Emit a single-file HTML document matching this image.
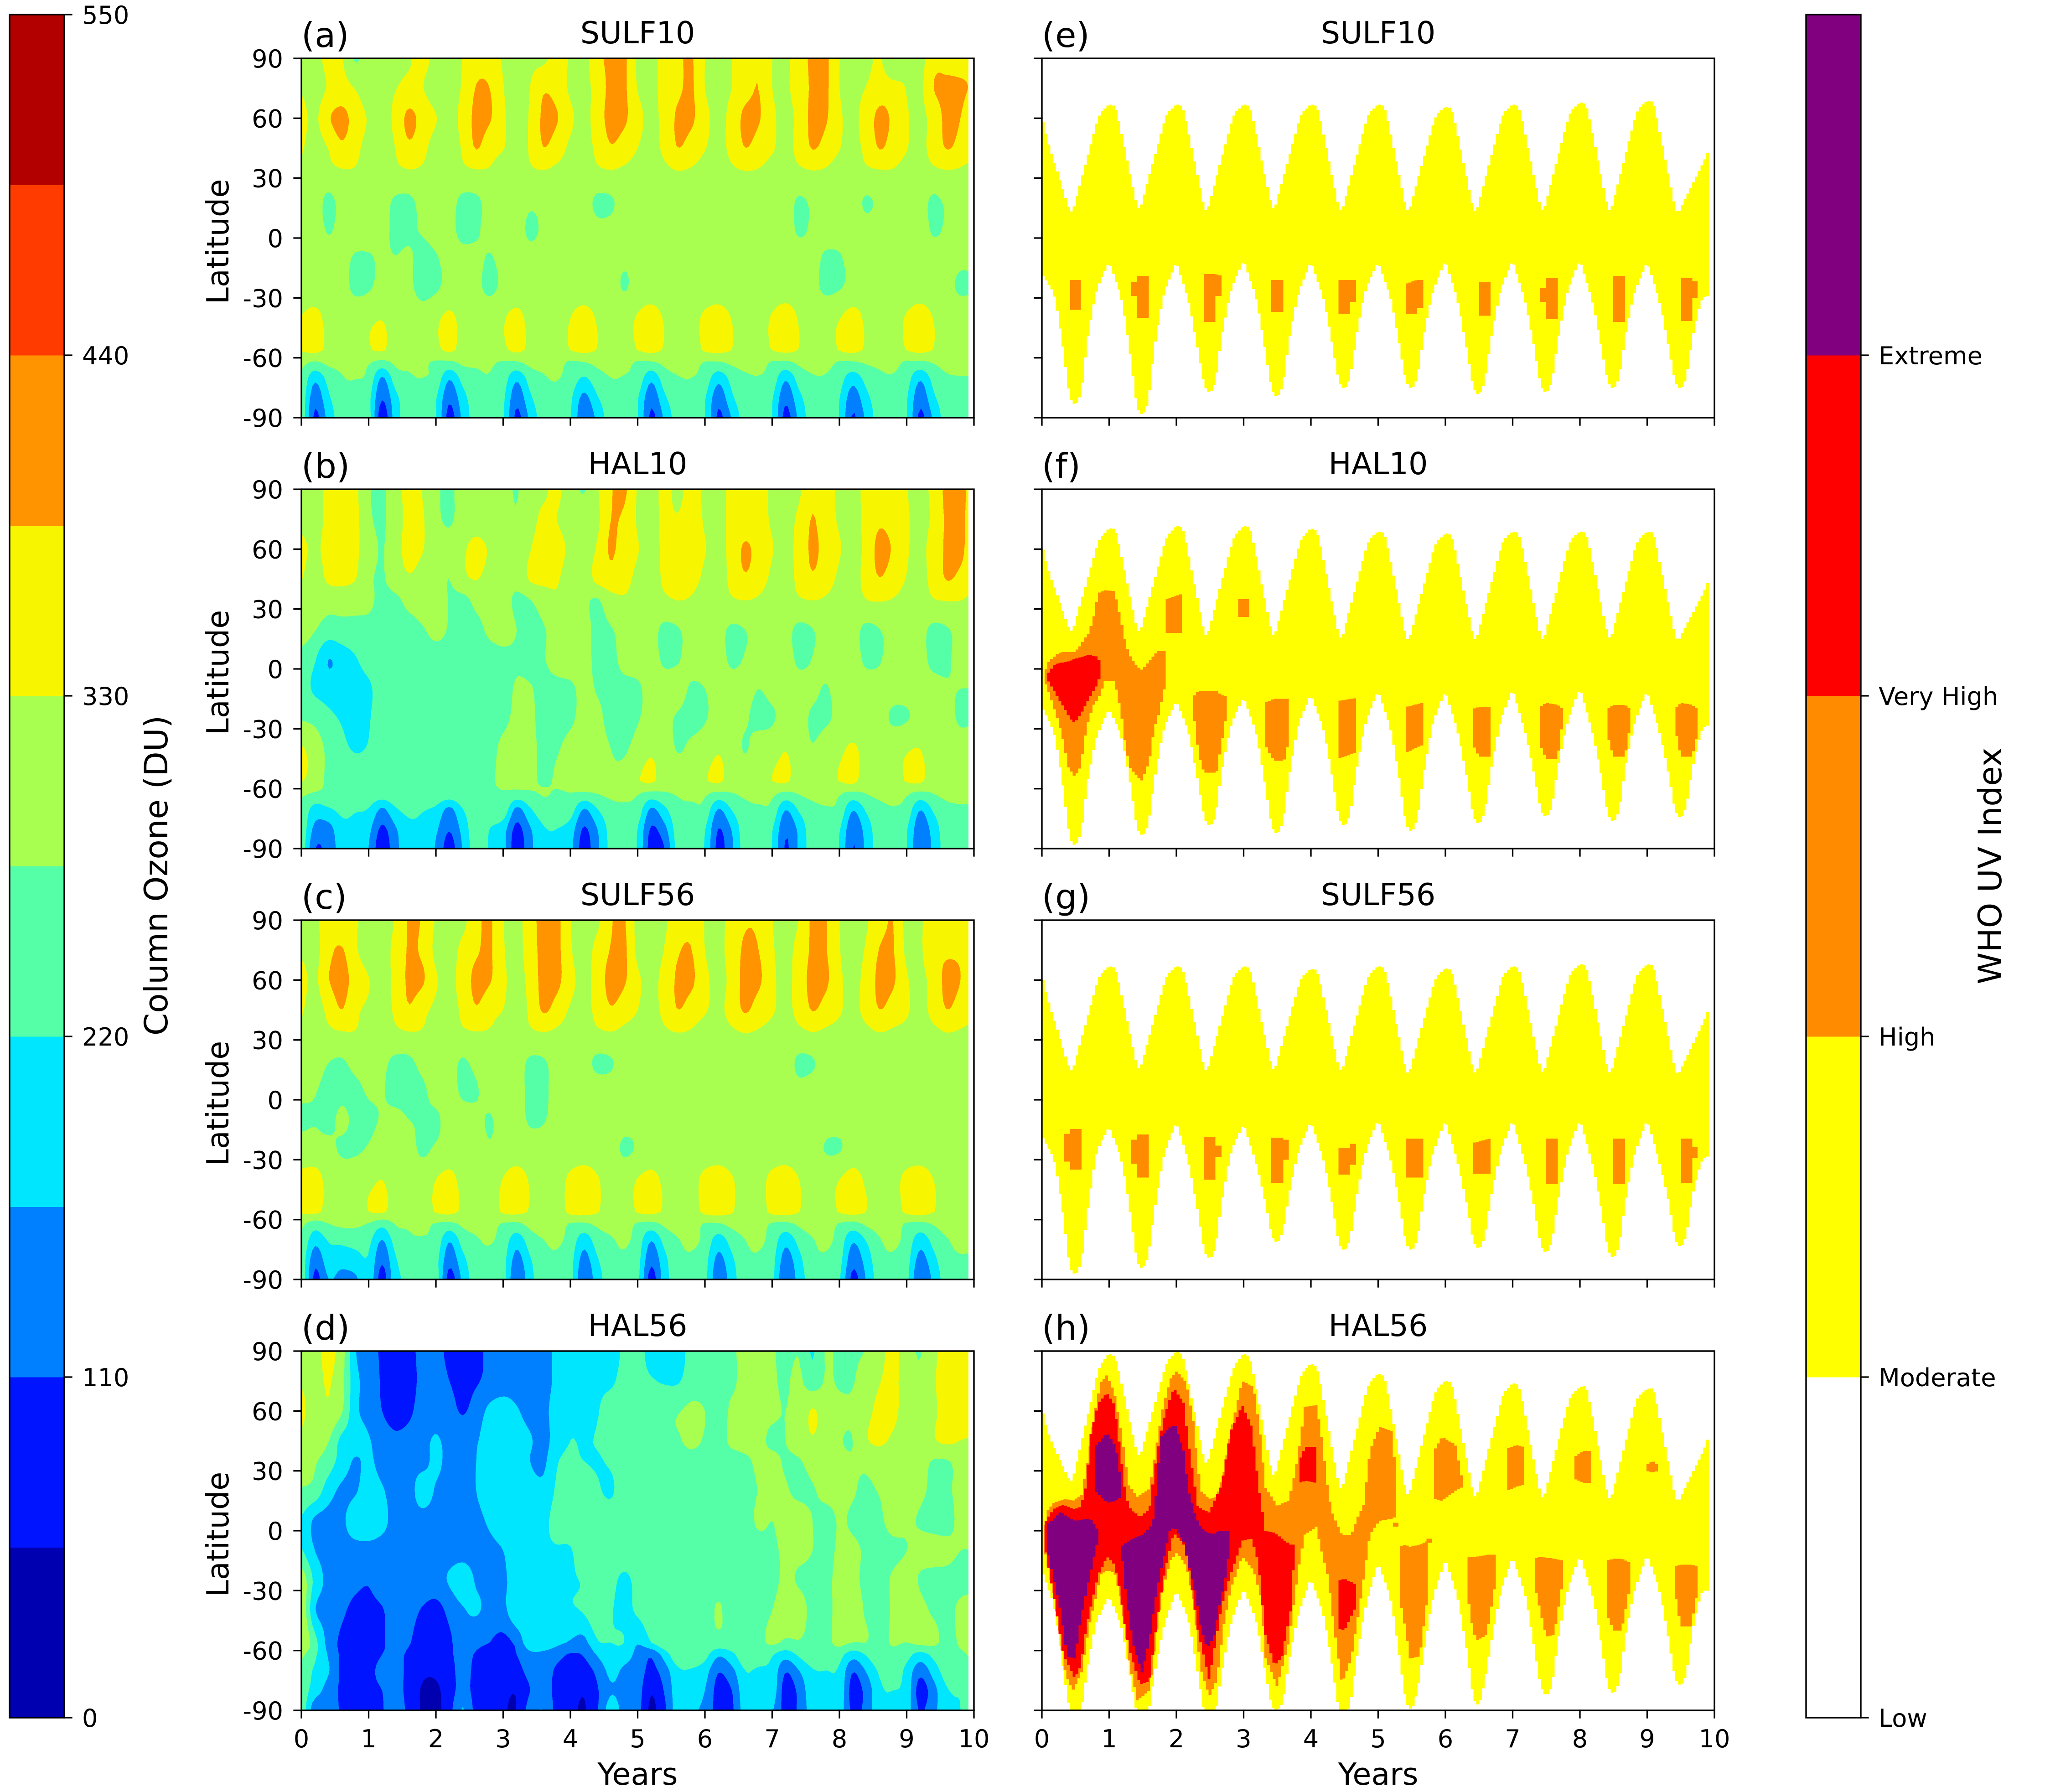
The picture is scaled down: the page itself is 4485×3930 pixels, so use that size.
<!DOCTYPE html>
<html>
<head>
<meta charset="utf-8">
<title>Column Ozone and WHO UV Index</title>
<style>
html,body{margin:0;padding:0;background:#fff;}
svg{display:block;}
text{font-family:"DejaVu Sans","Liberation Sans",sans-serif;fill:#000;}
</style>
</head>
<body>
<svg id="figure" xmlns="http://www.w3.org/2000/svg" width="4485" height="3930" viewBox="0 0 4485 3930"></svg>
<script>
const latitudes = [90,75,60,45,35,20,5,-10,-25,-40,-56,-62,-70,-80,-90];
const ozoneTimeStep = 0.2;
const dataEndYear = 9.917;
const ozoneLevels = [55,110,165,220,275,330,385,440,495];
const ozoneColors = ['#0000b0','#0014ff','#0080ff','#00e6ff','#55ffa8','#a8ff50','#f8f500','#ff9300','#ff3b00','#b20000'];
const ozoneTicks = [0,110,220,330,440,550];
const uvTickLabels = ['Low','Moderate','High','Very High','Extreme'];
const uvColors = ['#ffffff','#ffff00','#ff8c00','#ff0000','#800080'];
const latTicks = [90,60,30,0,-30,-60,-90];
const yearTicks = [0,1,2,3,4,5,6,7,8,9,10];
const uvTopOffsets = [0,0.1,0.44,0.85];
const uvBottomOffsets = [0,0.19,0.33,0.41,0.5,0.59,0.67,0.81];

const ozoneSulf10 = [
[300,310,345,335,270, 300,305,310,325,345, 315,305,332,365,360, 325,310,320,320,350, 325,312,370,395,395, 320,315,350,375,390, 330,310,330,375,380, 330,320,360,395,395, 330,312,315,335,272, 325,312,370,372,368, 370],
[325,305,335,350,328, 300,310,328,345,332, 305,315,335,388,385, 332,310,330,378,365, 322,315,350,400,395, 328,320,345,375,392, 330,320,330,365,385, 330,325,350,395,395, 330,318,332,360,350, 328,318,385,395,392, 380],
[345,320,378,402,362, 325,305,345,398,365, 332,315,345,400,390, 338,312,335,395,388, 340,315,355,405,395, 345,320,345,395,395, 342,320,345,400,390, 340,318,345,400,390, 338,318,355,398,375, 335,318,350,400,385, 340],
[335,305,332,375,345, 312,305,331,375,345, 310,312,335,388,350, 332,312,335,384,358, 320,315,340,380,358, 330,318,340,385,360, 332,320,342,385,360, 335,318,345,388,365, 332,318,342,388,360, 332,318,350,388,365, 335],
[322,300,318,330,328, 305,300,320,332,325, 305,305,322,332,328, 310,305,325,333,322, 310,305,325,333,325, 315,308,322,334,328, 315,308,325,334,330, 315,308,325,334,328, 312,308,325,332,330, 315,308,325,333,328, 320],
[300,295,268,290,296, 296,290,272,270,290, 296,292,268,270,292, 296,295,285,290,296, 296,290,270,272,292, 296,296,296,296,296, 296,296,296,296,296, 296,295,272,285,296, 296,292,272,285,296, 296,292,270,285,296, 296],
[295,290,272,285,292, 292,285,268,268,280, 292,288,262,268,292, 292,288,270,280,292, 292,292,282,284,294, 292,292,292,292,292, 292,292,292,292,292, 292,290,270,280,292, 292,292,285,290,292, 292,292,270,280,292, 292],
[290,292,288,285,272, 272,280,276,280,262, 272,288,288,285,272, 288,292,285,288,280, 290,290,290,290,282, 290,290,290,290,290, 290,290,290,290,290, 290,290,290,286,270, 272,288,290,290,290, 290,290,290,290,284, 284],
[300,300,298,292,266, 270,292,292,285,258, 268,292,295,285,266, 285,296,296,296,288, 296,296,296,294,272, 292,296,296,296,296, 296,296,296,296,296, 296,296,296,288,266, 272,290,296,296,296, 296,296,296,288,268, 272],
[332,345,315,305,305, 320,328,310,305,298, 320,340,315,305,305, 325,345,315,305,305, 330,352,325,305,310, 335,355,325,305,310, 340,355,328,305,310, 335,360,325,305,310, 328,350,320,305,310, 335,358,328,305,305, 305],
[335,345,318,300,298, 325,336,305,300,296, 318,340,312,298,296, 320,342,318,298,296, 332,345,328,296,298, 332,345,325,296,298, 338,345,330,296,298, 332,345,328,296,298, 334,345,322,296,298, 332,346,328,296,296, 296],
[288,272,288,285,285, 280,262,285,282,282, 270,268,285,282,280, 272,272,290,290,290, 270,276,288,288,288, 272,272,288,292,292, 274,274,286,295,292, 272,268,286,290,290, 272,272,282,285,288, 270,268,280,292,296, 296],
[268,180,240,272,276, 262,160,250,270,275, 260,172,240,265,272, 250,178,245,270,278, 255,215,255,275,272, 258,180,250,272,275, 255,185,240,265,272, 255,175,245,270,270, 245,190,240,265,270, 245,175,240,268,272, 272],
[255,130,210,255,260, 235,115,205,250,258, 225,122,200,250,255, 230,128,210,255,258, 230,150,215,255,258, 225,128,210,255,255, 225,130,210,255,255, 225,125,205,250,258, 222,135,205,250,255, 225,128,210,250,258, 258],
[258,100,185,250,255, 240,78,195,250,255, 225,90,180,250,255, 225,98,178,250,255, 225,118,180,250,255, 222,100,175,250,255, 222,100,170,250,255, 222,92,180,250,255, 218,105,178,250,255, 222,100,175,250,255, 255]
];
const ozoneHal10 = [
[300,305,345,338,340, 280,265,310,345,328, 285,265,300,305,305, 295,272,310,322,340, 300,272,325,380,395, 325,315,340,320,345, 322,310,345,350,350, 322,310,322,370,350, 322,312,345,360,360, 332,315,345,400,400, 360],
[318,305,345,345,345, 285,268,305,345,335, 288,268,298,305,300, 296,280,312,340,330, 310,300,320,385,375, 325,318,338,335,352, 325,312,345,345,345, 325,315,340,388,350, 325,312,345,375,360, 335,318,340,395,395, 362],
[340,322,345,345,340, 300,272,312,345,332, 305,295,322,345,325, 305,300,328,350,345, 322,312,335,392,355, 332,318,340,372,358, 332,318,345,395,360, 332,318,345,395,362, 333,318,342,405,378, 335,320,350,395,400, 340],
[332,300,340,345,332, 285,270,305,325,312, 300,275,318,332,312, 300,295,335,345,335, 308,300,345,365,345, 320,305,340,360,348, 320,305,345,378,350, 322,308,345,378,350, 322,308,350,383,355, 328,312,350,388,370, 335],
[310,295,292,295,290, 285,262,265,292,302, 302,272,262,290,298, 298,265,275,298,322, 300,285,272,310,325, 310,300,320,332,325, 305,300,325,332,325, 310,302,325,332,325, 312,300,330,335,328, 315,305,328,334,332, 320],
[305,278,255,258,262, 262,260,258,258,272, 285,272,258,262,285, 295,275,262,272,295, 300,290,265,272,295, 298,292,265,272,296, 298,290,268,276,296, 298,290,265,274,296, 298,292,265,275,296, 298,290,265,272,292, 296],
[255,225,165,190,215, 245,255,258,262,262, 262,262,262,262,258, 262,268,262,272,295, 298,290,265,262,290, 296,292,268,272,292, 296,292,268,278,294, 296,292,268,276,294, 296,292,268,272,294, 296,292,262,268,292, 292],
[240,212,195,190,195, 210,250,258,258,258, 258,258,258,258,258, 258,280,278,262,262, 268,285,272,262,262, 268,292,292,292,270, 275,292,292,290,275, 288,292,290,285,272, 292,292,292,292,292, 292,292,292,280,275, 275],
[272,262,235,215,200, 215,258,258,258,258, 258,258,258,258,258, 265,285,285,258,262, 270,285,285,262,262, 272,292,285,270,262, 272,292,292,280,262, 270,292,292,268,268, 288,292,292,292,268, 272,292,292,292,268, 272],
[335,305,262,235,215, 225,258,258,258,258, 258,258,258,258,262, 285,295,290,262,272, 285,295,292,275,270, 292,322,298,272,285, 300,325,300,272,300, 305,328,300,278,300, 318,338,310,300,310, 325,330,300,300,300, 300],
[332,310,262,262,262, 258,258,258,258,258, 258,260,262,262,268, 285,282,285,268,280, 285,300,290,280,290, 325,340,300,300,300, 325,340,305,300,300, 330,340,300,300,300, 332,345,300,300,300, 335,340,300,300,300, 300],
[285,272,262,258,255, 258,258,262,262,262, 265,262,270,265,270, 272,265,270,278,272, 275,272,278,285,285, 280,265,272,280,285, 282,268,275,285,290, 285,268,280,290,290, 280,266,278,288,290, 282,266,278,290,296, 296],
[262,200,215,232,225, 218,160,215,235,225, 210,155,220,255,262, 262,155,215,255,262, 250,165,220,258,268, 255,160,210,262,268, 262,165,225,262,270, 262,170,230,262,272, 262,172,230,262,272, 258,170,230,262,268, 268],
[258,150,145,205,205, 180,100,160,205,205, 175,115,185,255,220, 190,95,160,215,220, 195,105,165,240,258, 220,105,150,250,262, 225,110,170,255,262, 225,120,180,255,262, 225,125,190,255,262, 225,130,190,255,262, 262],
[255,112,130,190,190, 165,70,150,195,195, 160,85,170,250,215, 185,75,150,205,215, 180,85,155,235,258, 215,85,110,245,258, 215,95,155,250,258, 220,105,175,250,258, 218,108,180,250,258, 222,115,180,250,258, 258]
];
const ozoneSulf56 = [
[300,315,360,340,335, 310,305,335,390,380, 325,305,315,370,392, 332,310,365,400,400, 332,310,320,380,390, 315,310,322,360,370, 328,315,350,380,375, 332,315,332,395,388, 330,315,325,365,385, 315,322,370,375,378, 375],
[322,312,370,390,338, 305,310,345,390,375, 318,308,345,378,392, 335,310,360,400,400, 335,312,345,388,395, 318,312,332,380,386, 330,318,352,395,385, 335,320,345,395,388, 332,318,335,388,388, 320,322,375,378,378, 375],
[345,320,382,402,365, 332,310,345,395,392, 335,318,352,400,390, 340,315,345,405,400, 345,318,350,405,392, 338,320,345,395,395, 342,318,345,405,395, 340,320,350,405,395, 338,320,345,400,392, 335,318,350,400,385, 340],
[335,305,345,385,340, 322,308,340,380,345, 320,312,340,380,345, 330,312,338,392,362, 325,318,342,380,355, 330,318,342,385,360, 335,320,350,392,358, 335,320,345,388,362, 335,320,345,385,360, 335,318,345,385,360, 338],
[322,300,322,332,330, 310,300,322,333,328, 308,305,325,332,328, 315,305,325,334,325, 312,308,325,333,322, 315,308,325,334,328, 312,310,325,335,328, 318,310,322,334,325, 318,310,322,334,326, 320,310,322,334,328, 320],
[298,296,278,272,292, 295,285,268,268,292, 296,292,272,290,296, 296,295,270,272,296, 296,290,268,272,296, 296,296,296,296,296, 296,296,296,296,296, 296,295,268,272,296, 296,296,296,290,296, 296,296,296,296,296, 296],
[285,278,262,262,265, 280,278,262,262,268, 292,292,268,272,292, 292,292,265,266,292, 292,292,292,292,292, 292,290,292,292,292, 292,292,292,285,292, 292,292,285,292,292, 292,292,292,292,292, 292,292,292,292,292, 292],
[268,272,262,285,265, 268,278,285,275,272, 268,292,292,285,272, 290,292,270,272,292, 292,292,292,292,292, 292,292,292,292,292, 292,292,292,292,292, 292,292,292,292,292, 292,292,292,292,292, 292,292,292,292,292, 292],
[296,296,290,268,268, 280,296,296,290,268, 282,296,296,296,280, 296,296,296,296,296, 296,296,296,296,268, 280,296,296,296,296, 296,296,296,296,296, 296,296,296,296,272, 272,296,296,296,296, 296,296,296,296,296, 296],
[345,350,315,305,305, 318,330,308,305,300, 330,345,315,305,305, 332,355,325,305,305, 342,360,335,305,308, 332,345,320,305,310, 345,360,335,305,310, 345,360,330,305,310, 330,350,322,305,312, 345,358,330,305,305, 305],
[340,345,310,298,298, 330,338,305,300,298, 335,345,320,296,296, 338,345,325,296,296, 345,350,335,296,298, 335,345,322,296,298, 345,350,335,296,298, 345,350,332,296,298, 335,348,330,296,298, 342,350,332,296,296, 296],
[285,250,275,285,285, 272,240,278,280,285, 272,262,285,290,290, 272,265,290,296,296, 272,268,285,290,296, 270,260,285,296,296, 272,272,290,296,296, 270,262,285,296,296, 272,258,285,296,296, 270,262,280,296,296, 296],
[270,185,225,235,240, 235,165,245,268,272, 262,172,245,270,280, 255,190,250,275,282, 258,190,250,270,282, 255,170,240,272,285, 262,195,245,275,285, 255,185,240,272,285, 255,175,225,272,285, 258,190,240,272,288, 285],
[255,130,195,185,200, 215,120,215,240,262, 240,130,205,255,262, 240,145,215,258,268, 240,145,215,255,268, 240,125,205,260,268, 240,150,210,262,268, 240,140,205,262,268, 240,130,190,258,268, 242,145,205,258,270, 268],
[258,95,165,150,155, 205,85,205,225,255, 250,88,180,250,258, 240,115,200,255,258, 240,118,195,250,258, 235,88,195,255,258, 235,125,195,255,258, 235,112,190,250,258, 225,95,170,250,258, 235,110,180,250,258, 258]
];
const ozoneHal56 = [
[300,310,345,300,170, 125,105,85,90,130, 130,95,90,100,120, 140,145,150,150,175, 195,200,200,170,240, 240,200,195,195,240, 255,262,270,285,290, 280,262,272,215,280, 265,268,278,312,345, 300,272,320,345,345, 345],
[325,310,335,290,185, 140,105,85,90,125, 140,110,95,105,125, 140,145,150,150,175, 195,200,205,205,250, 240,225,215,215,248, 260,268,270,285,290, 280,270,285,245,280, 270,272,305,328,345, 300,285,325,350,350, 350],
[340,305,322,280,180, 145,110,92,100,135, 145,130,105,135,178, 190,170,150,155,185, 215,205,215,260,262, 262,262,265,272,285, 275,262,280,285,285, 280,275,290,335,300, 285,285,318,340,345, 300,290,320,352,352, 350],
[320,295,278,205,190, 170,135,120,130,150, 170,150,150,160,195, 205,195,170,150,190, 220,215,225,255,262, 262,262,268,272,282, 272,262,282,285,282, 270,275,295,325,295, 278,275,325,338,320, 290,290,325,340,330, 325],
[300,280,250,195,160, 175,145,145,150,150, 175,150,150,165,195, 205,210,165,155,215, 235,220,215,230,262, 262,262,262,262,265, 262,262,262,270,280, 282,272,272,290,290, 285,278,285,300,295, 295,290,272,272,290, 285],
[270,255,190,155,160, 190,170,145,145,190, 160,145,145,165,200, 210,205,190,180,230, 262,262,230,210,262, 262,262,262,262,262, 262,262,262,266,276, 282,278,268,272,285, 285,278,268,278,290, 290,282,268,270,285, 285],
[215,155,145,155,195, 205,180,148,145,145, 145,145,145,150,175, 205,210,210,205,245, 262,262,262,262,262, 262,262,262,262,262, 262,262,262,262,280, 275,285,290,275,262, 278,270,262,270,285, 280,272,262,262,285, 285],
[225,165,145,145,145, 145,145,145,145,145, 145,145,145,145,150, 165,205,215,215,215, 215,262,262,262,262, 262,262,262,262,262, 262,262,262,262,262, 270,280,285,275,262, 282,282,270,265,268, 275,285,290,285,275, 275],
[310,205,150,145,125, 115,145,145,145,145, 145,170,195,160,150, 155,195,215,215,215, 215,225,250,240,205, 240,262,262,262,262, 262,262,262,262,262, 262,285,270,262,262, 290,285,265,262,280, 290,272,262,262,262, 262],
[320,170,145,120,95, 95,105,145,130,105, 90,125,160,170,150, 150,210,215,215,215, 215,225,262,225,205, 230,262,262,262,262, 262,278,262,262,262, 275,300,295,262,262, 290,295,270,262,280, 295,285,270,262,285, 295],
[332,240,145,100,90, 90,100,145,115,85, 85,100,145,125,110, 95,125,205,205,180, 160,150,215,220,220, 170,220,262,262,265, 262,262,262,262,262, 285,268,272,262,262, 290,275,275,262,280, 275,290,285,262,280, 285],
[285,230,160,100,90, 95,110,125,100,80, 78,100,130,105,95, 90,110,150,150,130, 105,115,170,205,190, 150,120,190,262,262, 240,175,205,262,262, 225,190,230,262,262, 240,190,225,262,262, 240,200,235,262,270, 280],
[265,210,170,100,85, 100,120,130,95,65, 65,90,130,95,85, 75,90,130,140,100, 85,85,125,180,155, 140,95,140,210,215, 190,115,150,220,210, 205,115,165,215,220, 212,115,170,230,250, 205,130,190,250,262, 262],
[255,190,145,100,90, 100,110,130,90,50, 45,85,130,90,75, 65,60,110,140,90, 80,60,105,160,145, 135,60,115,200,205, 165,90,110,205,205, 200,85,125,205,205, 205,85,130,210,220, 200,85,145,215,225, 225],
[258,130,150,100,90, 90,105,150,90,50, 40,90,170,90,75, 60,55,135,165,90, 70,50,105,190,145, 130,45,100,195,175, 150,90,100,195,195, 170,90,120,195,195, 195,95,130,215,205, 190,105,150,205,220, 220]
];

const uvTopE = [61,47,11,62, 67,66,12,62, 67,66,11,62, 67,66,12,62, 67,66,11,62, 67,66,11,61, 66,65,10.5,62, 67,66,11,63, 68,67,11,64, 69,68,11,39, 44];
const uvTopF = [62.5,49,17,65, 70.5,70,16,66, 71.7,71,14,66, 71.7,71,14,65, 70.5,69,12.7,64, 69,68,12,63, 68,67,12,64, 69,68,12,64, 69,68,12.7,64, 69,68,12.7,39, 45];
const uvTopG = [62.8,49,12.5,62, 67,66,13,62, 67,66,12,62, 67,66,12.5,61, 65.7,65,12,62, 67,66,10.7,61, 66,65,10.7,62, 67,66,11,63, 68,67,10.7,63, 68,67,11,40, 46];
const uvTopH = [61.5,48,23,82, 89,87,35,84, 90,88,31,82, 89,87,24.6,78, 84,82,18,73, 79,77,15,70, 75.5,74,14,68, 74,73,13.5,67, 72,72.6,13,67, 71,71.5,13,41, 47.7];

const uvBottomE = [-18,-28,-58,-80,-84,-78,-52,-26, -12,-30,-62,-85,-89,-82,-55,-28, -12,-32,-58,-74,-78,-72,-50,-26, -11,-30,-58,-76,-80,-74,-52,-28, -12,-30,-55,-72,-76,-70,-50,-26, -12,-30,-56,-72,-76,-70,-50,-27, -11,-32,-58,-75,-79,-72,-52,-27, -11,-32,-56,-74,-78,-72,-52,-27, -11,-32,-56,-72,-76,-70,-50,-27, -12,-32,-56,-72,-76,-70,-50,-30, -29];
const uvBottomF = [-19,-32,-62,-85,-89,-82,-58,-34, -20,-34,-60,-80,-84,-78,-56,-30, -16,-32,-58,-75,-79,-74,-52,-28, -14,-32,-60,-79,-83,-77,-55,-28, -13,-30,-56,-75,-79,-73,-52,-27, -11,-30,-58,-78,-82,-75,-54,-27, -11,-32,-56,-74,-78,-72,-52,-27, -10,-32,-54,-71,-74.5,-69,-50,-27, -9.5,-32,-55,-73,-77,-71,-50,-27, -11,-32,-54,-71,-75,-69,-50,-30, -28];
const uvBottomG = [-18,-30,-60,-84,-88,-82,-58,-26, -13.5,-30,-60,-81,-85,-78,-56,-28, -11,-32,-58,-76,-80,-74,-52,-26, -12,-32,-52,-68,-72,-66,-48,-26, -11,-30,-54,-72,-76,-70,-50,-26, -10,-30,-54,-72,-76,-70,-50,-27, -10,-32,-54,-71,-75,-69,-50,-27, -10,-32,-55,-73,-77,-71,-52,-27, -10,-32,-56,-75,-80,-73,-52,-27, -10,-32,-52,-70,-74,-68,-48,-30, -28];
const uvBottomH = [-20,-38,-72,-90,-92,-90,-70,-45, -33,-48,-76,-92,-94,-92,-72,-48, -30,-45,-74,-92,-94,-92,-72,-46, -29,-45,-72,-88,-90,-86,-66,-42, -24,-42,-70,-90,-92,-88,-66,-38, -16,-34,-66,-86,-90,-80,-62,-34, -14,-34,-62,-84,-88,-75,-58,-32, -13,-32,-60,-78,-83,-78,-56,-30, -12.5,-32,-58,-78,-82,-76,-54,-30, -12,-30,-56,-74,-78,-72,-50,-30, -30];

const uvOrangeE = [
[[0.42,-36,-21],[0.58,-36,-21]],
[[1.33,-29,-22],[1.41,-29,-22]],[[1.41,-40,-19],[1.59,-40,-19]],
[[2.41,-42,-18],[2.58,-42,-18]],[[2.58,-29,-18],[2.67,-29,-19]],
[[3.41,-37,-21],[3.59,-37,-21]],
[[4.41,-38,-21],[4.58,-38,-21]],[[4.58,-32,-21],[4.67,-32,-21]],
[[5.41,-38,-23],[5.58,-38,-21]],[[5.58,-35,-21],[5.67,-35,-21]],
[[6.5,-39,-22],[6.67,-39,-22]],
[[7.41,-32,-25],[7.49,-32,-25]],[[7.49,-40.6,-20],[7.67,-40.6,-20]],
[[8.49,-42,-19],[8.67,-42,-19]],
[[9.5,-41.6,-20],[9.67,-41.6,-20]],[[9.67,-30,-21.6],[9.75,-30,-21.6]]
];
const uvOrangeF = [
[[0.04,-6,-2],[0.11,-12,4],[0.25,-27,8],[0.32,-36,8.5],[0.39,-49,8.5],[0.49,-54,8.5],[0.58,-49,12],[0.63,-36,15],[0.7,-25,18],[0.77,-18,26],[0.84,-15,38],[0.94,-6,39.4],[1.08,-6,39],[1.18,-22,24],[1.25,-40,12],[1.32,-50,6],[1.42,-54,1],[1.49,-56,-0.5],[1.6,-46,4],[1.67,-30,7],[1.73,-24,9],[1.84,-7,9]],
[[1.84,18,35],[2.08,18,37.5]],[[2.92,26,35],[3.08,26,35]],
[[2.25,-20,-14],[2.33,-43,-11],[2.41,-52,-11],[2.6,-52,-11],[2.67,-38,-13],[2.75,-22,-14]],
[[3.32,-38,-17],[3.45,-46,-15],[3.6,-46,-15],[3.67,-36,-15]],[[4.41,-45,-16],[4.67,-42,-14.6]],[[5.41,-42,-19],[5.67,-38,-17]],[[6.41,-38,-20],[6.5,-44,-19],[6.67,-44,-19]],
[[7.41,-38,-19],[7.5,-45,-17],[7.67,-45,-18],[7.75,-25,-20]],[[8.41,-33,-20],[8.5,-44,-18],[8.67,-44,-18],[8.75,-28,-20]],[[9.42,-30,-20],[9.5,-44,-17],[9.67,-44,-18],[9.75,-32,-20]]
];
const uvRedF = [
[[0.08,-5,-3],[0.18,-11,2],[0.25,-15,3],[0.35,-20.5,3.4],[0.42,-25,4],[0.49,-27,5],[0.59,-22,6],[0.7,-15,7],[0.84,-7,6],[0.87,-1,1]]
];
const uvOrangeG = [
[[0.33,-31,-17],[0.42,-31,-17]],[[0.42,-35,-14.6],[0.59,-35,-14.6]],
[[1.33,-32,-20],[1.41,-32,-20]],[[1.41,-39,-17.4],[1.59,-39,-17.4]],
[[2.41,-40,-18.5],[2.58,-40,-18.5]],[[2.58,-28.6,-23],[2.67,-28.6,-23]],
[[3.41,-41.6,-19],[3.59,-41.6,-19]],[[3.59,-30,-20],[3.67,-30,-20]],
[[4.41,-37.5,-24],[4.58,-37.5,-24]],[[4.58,-32.6,-22],[4.67,-32.6,-22]],
[[5.41,-39,-19.4],[5.67,-39,-19.4]],
[[6.41,-37,-21.5],[6.67,-37,-19.4]],
[[7.49,-42,-19.4],[7.67,-42,-19.4]],
[[8.49,-42,-19.4],[8.67,-42,-19.4]],
[[9.5,-41.7,-19.4],[9.67,-41.7,-19.4]],[[9.67,-29,-23.6],[9.75,-29,-23.6]]
];
const uvOrangeH = [
[[0.03,-9,-2],[0.08,-16,10],[0.18,-32,14],[0.25,-48,15],[0.35,-72,16],[0.46,-80,15],[0.59,-71,18],[0.7,-48,39],[0.8,-34,62],[0.87,-22,74],[0.97,-20,78],[1.08,-21,69],[1.18,-34,50],[1.29,-64,23],[1.42,-85,17],[1.6,-80,21],[1.7,-52,42],[1.8,-29,62],[1.91,-15,76],[2.01,-11,80],[2.15,-18,74],[2.25,-34,55],[2.36,-69,20],[2.49,-83,16],[2.6,-75,17],[2.7,-48,28],[2.81,-29,50],[2.98,-13,75],[3.15,-20,72],[3.26,-34,45],[3.32,-63,22],[3.5,-78,12.5],[3.67,-56,15],[3.77,-31,30],[3.84,-14,45],[3.91,-2,62],[4.08,2,63],[4.15,-9,50],[4.26,-24,18],[4.33,-44,8],[4.46,-77,-2],[4.6,-64,-2],[4.71,-41,8],[4.78,-25,12],[4.88,-2,40],[5.02,5,52],[5.2,6,50],[5.26,7,30]],
[[5.83,16,40],[5.95,15,47],[6.15,20,43],[6.26,22,24]],[[6.92,20,41],[7.05,22,43],[7.17,23,42]],[[7.92,26,37],[8.05,24,40],[8.17,24,40]],[[8.99,30,33],[9.08,29,35],[9.16,30,33]],
[[5.22,2,4],[5.3,2,4]],[[5.72,-6,-4],[5.8,-6,-4]],
[[5.33,-35,-8],[5.41,-50,-7],[5.47,-64,-8],[5.62,-63,-7],[5.74,-32,-5]],[[6.33,-32,-13],[6.41,-50,-13],[6.47,-55,-13],[6.62,-52,-12],[6.75,-25,-12]],[[7.33,-28,-14],[7.41,-40,-13],[7.5,-53,-13.5],[7.62,-52,-14],[7.75,-25,-15]],[[8.4,-42,-15],[8.5,-50,-14],[8.62,-50,-14],[8.75,-28,-16]],[[9.41,-30,-18],[9.5,-48,-17],[9.65,-48,-17],[9.75,-30,-18]]
];
const uvRedH = [
[[0.04,-7,4],[0.18,-33,11],[0.32,-62,13],[0.49,-74,10.7],[0.58,-67.6,12],[0.66,-48.5,23],[0.73,-38,48.5],[0.84,-22,64],[0.97,-13,69],[1.08,-17,63],[1.15,-28,44],[1.25,-51,17],[1.32,-62,10.7],[1.46,-77,7],[1.6,-75.5,10.7],[1.7,-48.5,36],[1.8,-25,55],[1.96,-1,71.5],[2.11,-7,64],[2.18,-17,44],[2.32,-50,12],[2.49,-75,9],[2.67,-38,23],[2.81,-21.5,50],[2.98,-5,63],[3.12,-4,52],[3.22,-16,23],[3.32,-52,0],[3.46,-67.6,-1],[3.57,-63,-4],[3.7,-40,-7],[3.76,-9,-7]],
[[3.83,24,35],[3.92,25,42],[4.08,24,42]],[[4.41,-49,-25],[4.5,-50,-24],[4.67,-38,-27]]
];
const uvPurpleH = [
[[0.08,-9,3],[0.18,-25,6],[0.28,-40,9.5],[0.38,-63,7],[0.49,-64,5],[0.58,-44,5.5],[0.72,-21.5,6],[0.84,-4,0]],
[[0.79,20,42],[0.97,14,49],[1.1,15,42],[1.18,17,25]],
[[1.18,-8,-8],[1.25,-32,-6],[1.35,-56,-4],[1.49,-71,-2],[1.6,-55,1],[1.67,-38,7],[1.77,-20,47],[1.91,1,52],[1.98,1,53],[2.11,-5.6,40],[2.18,-17,20],[2.29,-32,7],[2.36,-48,2],[2.46,-59,-1],[2.56,-53,-1.6],[2.63,-40,0],[2.74,-21.5,0],[2.79,-9,0]]
];

const SVGNS = 'http://www.w3.org/2000/svg';
const figure = document.getElementById('figure');
const AXW = 1475, AXH = 788;
const TICK_FONT = 54.17;

function mk(tag, parent, attrs){
  const el = document.createElementNS(SVGNS, tag);
  for (const k in attrs) el.setAttribute(k, attrs[k]);
  parent.appendChild(el);
  return el;
}
function label(parent, name, str, x, y, size, anchor, rotate){
  const el = document.createElementNS(SVGNS, 'text');
  
  
  el.setAttribute('x', x);
  el.setAttribute('y', y);
  el.setAttribute('font-size', size);
  el.setAttribute('text-anchor', anchor);
  if (rotate) el.setAttribute('transform', 'rotate(' + rotate + ' ' + x + ' ' + y + ')');
  el.textContent = str;
  parent.appendChild(el);
  return el;
}
function stroke(parent, name, x1, y1, x2, y2, w){
  const el = document.createElementNS(SVGNS, 'line');
  
  
  el.setAttribute('x1', x1);
  el.setAttribute('y1', y1);
  el.setAttribute('x2', x2);
  el.setAttribute('y2', y2);
  el.setAttribute('stroke', '#000');
  el.setAttribute('stroke-width', w);
  el.setAttribute('stroke-linecap', 'square');
  parent.appendChild(el);
  return el;
}
function xAxis(p, t){ return p.left + t / 10 * AXW; }
function yAxis(p, lat){ return p.top + (90 - lat) / 180 * AXH; }

function catmull(a, b, c, d, f){
  return 0.5 * (2*b + (c-a)*f + (2*a-5*b+4*c-d)*f*f + (3*b-a-3*c+d)*f*f*f);
}
function latIndex(lat){
  for (let i = 0; i < latitudes.length - 1; i++){
    if (lat >= latitudes[i+1]) return i + (latitudes[i] - lat) / (latitudes[i] - latitudes[i+1]);
  }
  return latitudes.length - 1;
}
function sampleField(grid, t, lat){
  const fx = t / ozoneTimeStep, fy = latIndex(lat);
  const ix = Math.floor(fx), iy = Math.min(Math.floor(fy), grid.length - 2);
  const ux = fx - ix, uy = fy - iy;
  const rows = [];
  for (let r = -1; r <= 2; r++){
    const row = grid[Math.max(0, Math.min(grid.length - 1, iy + r))];
    const g = i => row[Math.max(0, Math.min(row.length - 1, i))];
    rows.push(catmull(g(ix-1), g(ix), g(ix+1), g(ix+2), ux));
  }
  return catmull(rows[0], rows[1], rows[2], rows[3], uy);
}
function drawOzone(p, grid, layer){
  const nx = 240, ny = 90;
  const vals = [];
  for (let j = 0; j <= ny; j++){
    const lat = 90 - j * 180 / ny, row = [];
    for (let i = 0; i <= nx; i++) row.push(sampleField(grid, i * dataEndYear / nx, lat));
    vals.push(row);
  }
  const X = i => xAxis(p, i * dataEndYear / nx);
  const Y = j => yAxis(p, 90 - j * 180 / ny);
  const base = mk('rect', layer, {x:xAxis(p,0), y:yAxis(p,90), width:xAxis(p,dataEndYear)-xAxis(p,0), height:AXH, fill:ozoneColors[0], 'shape-rendering':'crispEdges'});
  
  
  ozoneLevels.forEach((thr, li) => {
    let d = '';
    for (let j = 0; j < ny; j++){
      let runStart = -1;
      for (let i = 0; i <= nx; i++){
        let full = false, corners = null;
        if (i < nx){
          corners = [[i,j,vals[j][i]],[i+1,j,vals[j][i+1]],[i+1,j+1,vals[j+1][i+1]],[i,j+1,vals[j+1][i]]];
          full = corners.every(c => c[2] >= thr);
        }
        if (full){ if (runStart < 0) runStart = i; continue; }
        if (runStart >= 0){
          d += 'M'+X(runStart).toFixed(1)+' '+Y(j).toFixed(1)+'H'+X(i).toFixed(1)+'V'+Y(j+1).toFixed(1)+'H'+X(runStart).toFixed(1)+'Z';
          runStart = -1;
        }
        if (i < nx && corners.some(c => c[2] >= thr)){
          const poly = [];
          for (let k = 0; k < 4; k++){
            const A = corners[k], B = corners[(k+1)%4];
            if (A[2] >= thr) poly.push([X(A[0]), Y(A[1])]);
            if ((A[2] >= thr) !== (B[2] >= thr)){
              const f = (thr - A[2]) / (B[2] - A[2]);
              poly.push([X(A[0]) + (X(B[0])-X(A[0]))*f, Y(A[1]) + (Y(B[1])-Y(A[1]))*f]);
            }
          }
          d += 'M' + poly.map(q => q[0].toFixed(1)+' '+q[1].toFixed(1)).join('L') + 'Z';
        }
      }
    }
    if (!d) return;
    const el = mk('path', layer, {d:d, fill:ozoneColors[li+1], 'shape-rendering':'crispEdges'});
    
    
  });
}

function interp(ts, vs, t){
  if (t <= ts[0]) return vs[0];
  for (let i = 1; i < ts.length; i++){
    if (t <= ts[i]) return vs[i-1] + (vs[i]-vs[i-1]) * (t-ts[i-1]) / (ts[i]-ts[i-1]);
  }
  return vs[vs.length-1];
}
function cycleTimes(offsets){
  const out = [];
  for (let k = 0; k < 10; k++) offsets.forEach(o => out.push(k + o));
  out.push(dataEndYear);
  return out;
}
const UV_STEP = 1 / 24;
function runPath(p, run){
  const ts = run.map(r => r[0]), los = run.map(r => r[1]), his = run.map(r => r[2]);
  const t0 = ts[0], t1 = ts[ts.length-1];
  const n = Math.max(1, Math.round((t1 - t0) / UV_STEP));
  const dt = (t1 - t0) / n;
  let d = 'M' + xAxis(p,t0).toFixed(1) + ' ' + yAxis(p,interp(ts,his,t0+dt/2)).toFixed(1);
  for (let i = 0; i < n; i++){
    const c = t0 + (i+0.5)*dt;
    d += 'V' + yAxis(p,interp(ts,his,c)).toFixed(1) + 'H' + xAxis(p, t0+(i+1)*dt).toFixed(1);
  }
  for (let i = n-1; i >= 0; i--){
    const c = t0 + (i+0.5)*dt;
    d += 'V' + yAxis(p,interp(ts,los,c)).toFixed(1) + 'H' + xAxis(p, t0+i*dt).toFixed(1);
  }
  return d + 'Z';
}
function drawRuns(p, runs, color, name, layer){
  const d = runs.map(r => runPath(p, r)).join('');
  const el = mk('path', layer, {d:d, fill:color, 'shape-rendering':'crispEdges'});
  
  
}
function drawYellow(p, top, bottom, layer){
  const topTimes = cycleTimes(uvTopOffsets), botTimes = cycleTimes(uvBottomOffsets);
  const n = Math.round(dataEndYear / UV_STEP);
  const run = [];
  for (let i = 0; i <= n; i++){
    const t = i * dataEndYear / n;
    run.push([t, interp(botTimes, bottom, t), interp(topTimes, top, t)]);
  }
  drawRuns(p, [run], uvColors[1], 'uv-moderate-band', layer);
}

function drawAxes(p, i, opts){
  const g = mk('g', figure, {});
  
  
  const L = p.left, T = p.top, R = p.left + AXW, B = p.top + AXH;
  yearTicks.forEach(v => {
    stroke(g, 'x-tick-' + v, xAxis(p,v), B, xAxis(p,v), B + 16, 3.3);
    if (opts.xLabels) label(g, 'x-tick-label-' + v, String(v), xAxis(p,v), B + 81, TICK_FONT, 'middle');
  });
  latTicks.forEach(v => {
    stroke(g, 'y-tick-' + v, L - 16, yAxis(p,v), L, yAxis(p,v), 3.3);
    if (opts.yLabels) label(g, 'y-tick-label-' + v, String(v), L - 40, yAxis(p,v) + 20, TICK_FONT, 'end');
  });
  const frame = mk('rect', g, {x:L, y:T, width:AXW, height:AXH, fill:'none', stroke:'#000', 'stroke-width':3.4});
  
  
  label(g, 'panel-title', opts.title, L + AXW/2, T - 33, 66.7, 'middle');
  label(g, 'panel-letter', '(' + opts.letter + ')', L, T - 25, 75, 'start');
  if (opts.yLabels) label(g, 'y-axis-title', 'Latitude', 501, T + AXH/2 + 8, 66.7, 'middle', -90);
  if (opts.xLabels) label(g, 'x-axis-title', 'Years', L + AXW/2, B + 163, 66.7, 'middle');
}

const tops = [128, 1073, 2018, 2963];
const leftSpec = [
  {letter:'a', title:'SULF10', grid:ozoneSulf10},
  {letter:'b', title:'HAL10', grid:ozoneHal10},
  {letter:'c', title:'SULF56', grid:ozoneSulf56},
  {letter:'d', title:'HAL56', grid:ozoneHal56}
];
const rightSpec = [
  {letter:'e', title:'SULF10', top:uvTopE, bottom:uvBottomE, orange:uvOrangeE, red:[], purple:[]},
  {letter:'f', title:'HAL10', top:uvTopF, bottom:uvBottomF, orange:uvOrangeF, red:uvRedF, purple:[]},
  {letter:'g', title:'SULF56', top:uvTopG, bottom:uvBottomG, orange:uvOrangeG, red:[], purple:[]},
  {letter:'h', title:'HAL56', top:uvTopH, bottom:uvBottomH, orange:uvOrangeH, red:uvRedH, purple:uvPurpleH}
];

const defs = mk('defs', figure, {});
function panelLayer(p, letter){
  const cp = mk('clipPath', defs, {id:'clip-' + letter});
  mk('rect', cp, {x:p.left, y:p.top, width:AXW, height:AXH});
  const layer = mk('g', figure, {'clip-path':'url(#clip-' + letter + ')'});
  
  
  return layer;
}
leftSpec.forEach((s, i) => {
  const p = {left:661, top:tops[i]};
  drawOzone(p, s.grid, panelLayer(p, s.letter));
  drawAxes(p, i, {letter:s.letter, title:s.title, yLabels:true, xLabels:i === 3});
});
rightSpec.forEach((s, i) => {
  const p = {left:2285, top:tops[i]};
  const layer = panelLayer(p, s.letter);
  drawYellow(p, s.top, s.bottom, layer);
  if (s.orange.length) drawRuns(p, s.orange, uvColors[2], 'uv-high-band', layer);
  if (s.red.length) drawRuns(p, s.red, uvColors[3], 'uv-very-high-band', layer);
  if (s.purple.length) drawRuns(p, s.purple, uvColors[4], 'uv-extreme-band', layer);
  drawAxes(p, i, {letter:s.letter, title:s.title, yLabels:false, xLabels:i === 3});
});

function colorbar(name, left, colors, tickText, titleText, titleX, titleY){
  const g = mk('g', figure, {});
  
  
  const top = 32, bottom = 3767, w = 120, n = colors.length;
  const bandH = (bottom - top) / n;
  colors.forEach((c, i) => {
    const el = mk('rect', g, {x:left, y:bottom - (i+1)*bandH, width:w, height:bandH + 0.5, fill:c, 'shape-rendering':'crispEdges'});
    
    
  });
  const frame = mk('rect', g, {x:left, y:top, width:w, height:bottom-top, fill:'none', stroke:'#000', 'stroke-width':3.4});
  
  
  tickText.forEach((t, i) => {
    const y = bottom - t.pos * (bottom - top);
    stroke(g, name + '-tick-' + i, left + w, y, left + w + 16, y, 3.3);
    label(g, name + '-tick-label-' + i, t.text, left + w + 39, y + 20, TICK_FONT, 'start');
  });
  label(g, name + '-title', titleText, titleX, titleY, 70.8, 'middle', -90);
}
colorbar('ozone-colorbar', 21, ozoneColors, ozoneTicks.map(v => ({pos:v/550, text:String(v)})), 'Column Ozone (DU)', 367, 1920);
colorbar('uv-colorbar', 3961, [uvColors[0],uvColors[1],uvColors[2],uvColors[3],uvColors[4]], uvTickLabels.map((v,i) => ({pos:i/5, text:v})), 'WHO UV Index', 4389, 1899);
</script>
</body>
</html>
